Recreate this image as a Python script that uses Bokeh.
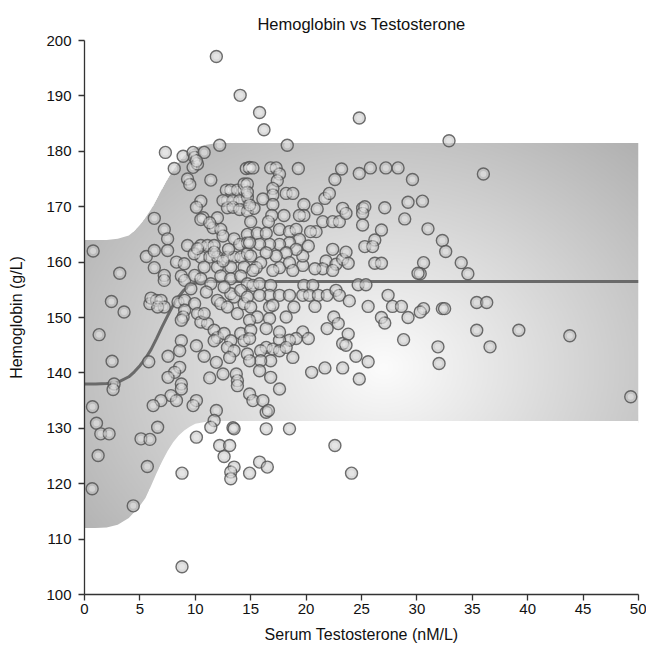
import numpy as np
from bokeh.plotting import figure
from bokeh.models import Range1d, FixedTicker
from bokeh.embed import file_html
from bokeh.resources import INLINE

# ---------------- data ----------------
x_ticks = [0, 5, 10, 15, 20, 25, 30, 35, 40, 45, 50]
y_ticks = [100, 110, 120, 130, 140, 150, 160, 170, 180, 190, 200]

# fitted sigmoid curve and its band
fit_x = [0, 1, 2, 3, 4, 4.5, 5, 5.5, 6, 6.5, 7, 7.5, 8, 8.5, 9, 9.5, 10, 11, 12, 50]
fit_y = [138.0, 138.0, 138.1, 138.3, 139.3, 140.2, 141.3, 142.6, 144.2, 146.2, 148.3, 150.3,
         152.2, 153.8, 155.0, 155.8, 156.2, 156.5, 156.5, 156.5]
band_x = [0, 1, 2, 3, 4, 4.5, 5, 5.5, 6, 6.5, 7, 7.5, 8, 8.5, 9, 9.5, 10, 11, 12, 50]
band_hi = [164.0, 164.0, 164.0, 164.2, 164.8, 165.6, 166.7, 168.0, 169.5, 171.3, 173.2, 175.0,
           176.6, 178.0, 179.2, 180.1, 180.7, 181.2, 181.5, 181.5]
band_lo = [112.0, 112.0, 112.1, 112.6, 113.8, 114.9, 116.0, 117.4, 119.6, 121.9, 124.0, 125.9,
           127.5, 128.7, 129.6, 130.3, 130.8, 131.2, 131.3, 131.3]

# scatter points (serum testosterone nM/L, hemoglobin g/L), grouped by region
points_low_t = [(0.78, 162.0), (3.18, 158.0), (2.43, 152.9), (3.57, 151.0), (0.72, 133.9),
                (1.08, 130.9), (1.47, 129.0), (2.22, 129.0), (1.23, 125.1), (0.69, 119.1),
                (1.32, 146.9), (2.49, 142.1), (2.67, 138.0), (2.58, 137.0), (5.8, 142.0),
                (5.1, 128.1), (5.9, 128.0), (5.67, 123.1), (5.58, 161.0), (5.9, 152.5),
                (4.4, 116.0), (6.0, 153.5)]
points_upper_a = [(7.3, 179.8), (8.9, 179.1), (9.8, 179.8), (9.94, 178.9), (10.8, 179.8), (12.2, 181.1),
                  (8.1, 176.9), (9.8, 177.1), (10.2, 177.7), (10.1, 178.3), (9.3, 175.0), (9.5, 174.0),
                  (11.4, 174.8), (14.6, 176.9), (14.9, 177.1), (12.8, 173.0), (13.2, 173.0), (13.8, 173.0),
                  (14.4, 173.0), (12.9, 171.1), (12.5, 171.1), (13.4, 171.1), (14.0, 171.1), (14.7, 171.7),
                  (14.4, 174.1), (10.5, 171.0), (10.1, 169.9), (12.9, 169.8), (13.4, 169.9), (14.0, 169.5),
                  (14.7, 169.2), (6.3, 167.9), (7.2, 165.9), (7.5, 164.2), (7.5, 162.1), (6.3, 162.1),
                  (6.3, 159.0), (10.7, 168.0), (10.5, 167.7), (11.6, 166.2), (12.0, 168.0), (11.3, 167.1),
                  (12.3, 165.9), (12.5, 164.7), (9.3, 163.0), (10.5, 163.0), (11.1, 163.0), (11.7, 163.0),
                  (13.5, 164.2), (14.0, 163.2), (14.7, 165.0), (14.7, 163.5), (8.3, 160.0), (9.0, 159.7),
                  (10.5, 160.9), (11.3, 160.9), (12.0, 160.9), (12.9, 160.9), (13.5, 160.9), (14.1, 160.9),
                  (14.7, 161.5), (10.8, 159.1), (12.0, 159.1), (13.2, 159.1), (14.4, 159.1),
                  (9.9, 161.5), (11.7, 161.8), (13.0, 162.3), (12.5, 160.2), (10.2, 162.4)]
points_lower_a = [(7.2, 157.6), (7.2, 156.7), (8.74, 157.5), (9.04, 156.7), (9.94, 157.6), (10.5, 157.0),
                  (11.4, 156.1), (12.3, 157.5), (13.2, 157.0), (14.1, 157.5), (14.7, 156.1), (6.5, 153.1),
                  (6.9, 153.1), (7.2, 151.9), (6.6, 151.9), (8.44, 152.8), (9.04, 153.1), (9.94, 152.5),
                  (9.04, 151.3), (8.9, 150.1), (8.74, 149.5), (10.2, 150.7), (10.5, 149.2), (11.1, 148.9),
                  (10.8, 150.7), (12.0, 153.1), (12.3, 152.5), (12.9, 151.9), (13.8, 150.7), (14.4, 152.5),
                  (13.5, 153.7), (13.2, 154.3), (14.1, 154.9), (14.7, 153.7), (11.7, 147.7), (12.0, 146.4),
                  (11.7, 145.8), (12.6, 147.1), (13.2, 145.8), (12.9, 144.6), (13.5, 144.0), (13.1, 142.8),
                  (14.1, 147.1), (14.4, 145.8), (14.7, 143.4), (8.74, 145.8), (8.59, 144.0), (10.1, 144.9),
                  (7.54, 143.0), (10.8, 143.0), (11.9, 141.9), (12.5, 139.8), (11.3, 139.1), (13.7, 139.8),
                  (13.8, 138.6), (13.8, 137.7), (8.59, 141.0), (8.14, 140.1), (7.54, 139.2), (8.74, 138.0),
                  (8.74, 137.1), (7.8, 135.9), (6.9, 135.0), (6.2, 134.1), (8.3, 135.0), (10.1, 135.0),
                  (9.8, 134.1), (11.9, 133.2), (11.7, 131.4), (11.4, 130.2), (13.4, 130.1), (6.6, 130.2),
                  (10.1, 128.4), (9.6, 155.2), (11.0, 154.6), (12.6, 155.5)]
points_upper_b = [(16.2, 183.9), (18.3, 181.1), (14.9, 177.0), (15.2, 177.0), (16.8, 177.0), (17.3, 177.0),
                  (17.6, 175.9), (17.4, 174.7), (19.3, 176.9), (23.2, 176.8), (22.6, 174.9), (14.7, 174.1),
                  (14.7, 172.6), (17.0, 173.3), (17.0, 172.1), (18.2, 172.4), (18.8, 172.4), (16.1, 171.4),
                  (17.0, 170.4), (19.8, 170.4), (21.7, 171.5), (22.1, 172.4), (21.0, 169.6), (23.3, 169.7),
                  (19.8, 168.4), (19.4, 168.4), (18.0, 168.4), (16.9, 168.4), (16.6, 167.3), (15.3, 169.7),
                  (14.9, 170.3), (21.5, 167.3), (22.4, 167.3), (23.0, 167.3), (20.9, 165.5), (20.4, 165.5),
                  (15.0, 167.3), (15.6, 165.2), (16.4, 165.2), (17.6, 165.9), (18.5, 165.5), (19.1, 165.9),
                  (19.4, 164.1), (20.2, 162.9), (18.5, 163.5), (17.6, 163.2), (16.7, 163.2), (15.8, 163.2),
                  (14.9, 163.5), (22.4, 162.3), (21.8, 160.2), (22.7, 159.6), (23.3, 160.5), (21.5, 158.8),
                  (22.4, 158.5), (20.8, 158.8), (19.7, 159.4), (19.7, 161.1), (19.1, 162.3), (18.2, 161.7),
                  (17.3, 161.1), (16.4, 161.7), (15.9, 159.9), (15.0, 161.1), (15.5, 159.0), (17.6, 159.0),
                  (18.5, 159.9), (17.0, 158.5), (18.8, 158.5), (15.2, 158.5)]
points_lower_b = [(15.2, 155.8), (15.8, 156.1), (16.8, 155.8), (16.7, 154.0), (15.8, 154.0), (17.6, 154.0),
                  (18.5, 154.0), (19.8, 155.8), (20.6, 155.8), (19.7, 154.0), (20.3, 154.0), (21.1, 154.0),
                  (21.9, 154.0), (22.7, 154.9), (23.0, 154.0), (15.0, 151.9), (16.7, 151.9), (17.0, 152.2),
                  (18.9, 151.9), (20.8, 152.0), (18.2, 150.1), (15.6, 150.1), (16.7, 149.8), (14.9, 149.5),
                  (22.5, 150.1), (22.9, 148.9), (21.9, 148.0), (19.7, 147.4), (20.2, 146.2), (19.1, 146.2),
                  (18.5, 145.9), (17.6, 145.9), (17.6, 147.4), (16.4, 148.0), (15.0, 147.7), (14.9, 146.2),
                  (16.4, 144.6), (15.9, 144.0), (17.0, 144.3), (17.6, 144.0), (18.2, 144.6), (18.8, 142.8),
                  (16.8, 142.2), (15.9, 142.2), (14.9, 142.2), (15.8, 140.4), (16.8, 139.2), (20.5, 140.1),
                  (21.7, 140.9), (23.3, 140.9), (23.3, 145.3), (17.6, 137.1), (14.9, 136.2), (15.2, 135.0),
                  (16.1, 135.0), (16.4, 132.9), (16.6, 133.2), (16.4, 129.9), (18.5, 129.9)]
points_mid_t = [(24.8, 186.0), (24.8, 176.0), (25.8, 177.0), (27.2, 177.0), (28.3, 177.0), (23.6, 168.8),
                (25.1, 169.7), (25.3, 170.0), (25.1, 168.8), (27.1, 169.8), (29.2, 170.8), (28.9, 167.8),
                (25.1, 166.7), (26.8, 165.8), (26.2, 164.0), (25.3, 162.8), (26.0, 162.8), (23.6, 161.8),
                (23.8, 159.8), (26.2, 159.8), (26.8, 159.8), (24.7, 155.9), (25.4, 155.9), (23.9, 153.0),
                (25.6, 152.0), (27.4, 154.0), (27.8, 152.0), (28.6, 152.0), (26.8, 150.0), (27.1, 149.0),
                (29.2, 150.0), (23.8, 147.0), (23.6, 145.0), (24.5, 143.0), (25.6, 142.0), (24.8, 138.9),
                (28.8, 146.0)]
points_high_t = [(32.9, 181.9), (29.6, 174.9), (36.0, 175.9), (30.5, 171.0), (31.0, 166.0), (32.3, 163.9),
                 (32.6, 161.9), (34.0, 159.9), (34.6, 157.9), (30.6, 159.9), (30.3, 157.9), (30.1, 158.0),
                 (30.6, 151.6), (30.3, 151.0), (32.3, 151.6), (32.5, 151.6), (35.4, 152.7), (36.3, 152.7),
                 (35.4, 147.7), (39.2, 147.7), (43.8, 146.7), (31.9, 144.7), (36.6, 144.7), (32.0, 141.7),
                 (49.3, 135.7)]
points_extreme = [(8.8, 121.9), (8.8, 105.0), (12.2, 126.9), (13.1, 126.9), (12.6, 124.9), (13.5, 123.0),
                  (13.2, 122.1), (13.2, 120.9), (14.9, 121.9), (15.8, 123.9), (16.5, 123.0), (22.6, 126.9),
                  (24.1, 121.9), (13.5, 129.9), (11.9, 197.1), (14.05, 190.1), (15.8, 187.0)]

all_points = (points_low_t + points_upper_a + points_lower_a + points_upper_b + points_lower_b
              + points_mid_t + points_high_t + points_extreme)
testosterone = [pt[0] for pt in all_points]
hemoglobin = [pt[1] for pt in all_points]

# ---------------- figure ----------------
FONT = "Liberation Sans"
p = figure(width=646, height=650, output_backend="svg", toolbar_location=None,
           x_range=Range1d(0, 50), y_range=Range1d(100, 200),
           min_border_left=84, min_border_right=8, min_border_top=40, min_border_bottom=56,
           title="Hemoglobin vs Testosterone")
p.outline_line_color = None
p.xgrid.grid_line_color = None
p.ygrid.grid_line_color = None
p.background_fill_color = "white"
p.border_fill_color = "white"

p.title.align = "center"
p.title.text_font = FONT
p.title.text_font_size = "16.5px"
p.title.text_font_style = "normal"
p.title.text_color = "#111111"
p.title.standoff = 16

# shaded band: radial-gradient image masked to the band, edges smoothed by white trims
ylo, yhi = min(band_lo), max(band_hi)
NX, NY = 500, 400
gx = np.linspace(0, 50, NX)
gy = np.linspace(ylo, yhi, NY)
X, Y = np.meshgrid(gx, gy)
lo = np.interp(gx, band_x, band_lo)[None, :]
hi = np.interp(gx, band_x, band_hi)[None, :]
pad = 2 * (yhi - ylo) / NY
inside = (Y >= lo - pad) & (Y <= hi + pad)
cx, cy, rx, ry = 27.0, 141.0, 30.0, 48.0
d = np.sqrt(((X - cx) / rx) ** 2 + ((Y - cy) / ry) ** 2)
v = np.clip(252 - 66 * d, 165, 252)
img = np.zeros((NY, NX), dtype=np.uint32)
view = img.view(dtype=np.uint8).reshape((NY, NX, 4))
view[:, :, 0] = v
view[:, :, 1] = v
view[:, :, 2] = v
view[:, :, 3] = np.where(inside, 255, 0)
p.image_rgba(image=[img], x=0, y=ylo, dw=50, dh=yhi - ylo)

trim_x = band_x + [band_x[-1] * 1.1]
trim_hi = band_hi + [band_hi[-1]]
trim_lo = band_lo + [band_lo[-1]]
p.varea(x=trim_x, y1=trim_hi, y2=[yhi + 1] * len(trim_x), fill_color="white")
p.varea(x=trim_x, y1=[ylo - 1] * len(trim_x), y2=trim_lo, fill_color="white")

p.line(fit_x, fit_y, line_color="#6a6a6a", line_width=3)

p.scatter(testosterone, hemoglobin, size=12, marker="circle",
          fill_color="#bcbcbc", fill_alpha=0.55, line_color="#555555", line_width=1.4, line_alpha=0.85)
p.scatter(testosterone, hemoglobin, size=6, marker="circle",
          fill_color="#f2f2f2", fill_alpha=0.45, line_color=None)

for ax in (p.xaxis[0], p.yaxis[0]):
    ax.axis_line_color = "#333333"
    ax.axis_line_width = 1.3
    ax.major_tick_line_color = "#333333"
    ax.major_tick_line_width = 1.3
    ax.major_tick_out = 6
    ax.major_tick_in = 0
    ax.minor_tick_line_color = None
    ax.major_label_text_font = FONT
    ax.major_label_text_font_size = "15px"
    ax.major_label_text_color = "#111111"
    ax.axis_label_text_font = FONT
    ax.axis_label_text_font_size = "16px"
    ax.axis_label_text_font_style = "normal"
    ax.axis_label_text_color = "#111111"

p.xaxis.ticker = FixedTicker(ticks=x_ticks)
p.yaxis.ticker = FixedTicker(ticks=y_ticks)
p.xaxis.axis_label = "Serum Testosterone (nM/L)"
p.yaxis.axis_label = "Hemoglobin (g/L)"
p.xaxis.major_label_standoff = 3
p.xaxis.axis_label_standoff = 9
p.yaxis.major_label_standoff = 7
p.yaxis.axis_label_standoff = 18

open("out.html", "w").write(file_html(p, INLINE))
